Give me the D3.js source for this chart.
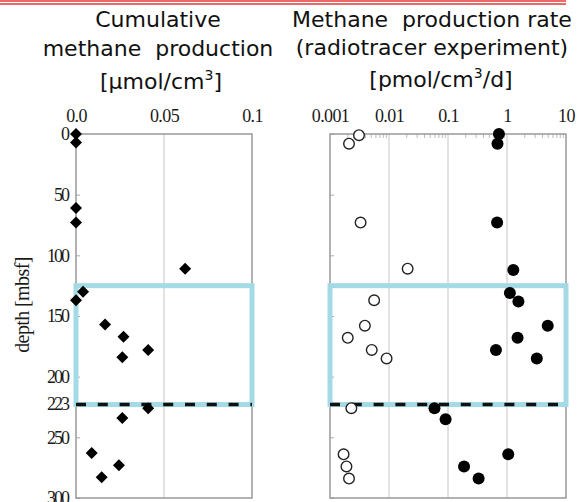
<!DOCTYPE html>
<html>
<head>
<meta charset="utf-8">
<script src="https://cdn.jsdelivr.net/npm/d3@7"></script>
<style>
  body { margin: 0; background: #fff; }
  svg { display: block; }
  .title { font-family: "DejaVu Sans", sans-serif; font-size: 22px; fill: #111; white-space: pre; }
</style>
</head>
<body>
<svg id="chart" width="580" height="502"></svg>
<script>
// depth ticks (mbsf)
var depthTicks = [0, 50, 100, 150, 200, 223, 250, 300];
var boundaryDepth = 223;
var boxTopDepth = 125;

// left panel: cumulative methane production
var cumDepth = [0, 7, 61, 73, 111, 130, 137, 157, 167, 178, 184, 226, 234, 263, 273, 283];
var cumValue = [0, 0, 0, 0, 0.062, 0.004, 0, 0.0165, 0.027, 0.041, 0.0263, 0.041, 0.0263, 0.0089, 0.0244, 0.0146];
var cumTicks = [0, 0.05, 0.1];
var cumTickLabels = ["0.0", "0.05", "0.1"];

// right panel: methane production rate, open and filled circles
var openDepth = [1, 8, 73, 111, 137, 158, 168, 178, 185, 226, 264, 274, 284];
var openValue = [0.0031, 0.0021, 0.0033, 0.0207, 0.0056, 0.0039, 0.0020, 0.0051, 0.0091, 0.0023, 0.0017, 0.0019, 0.0021];
var fillDepth = [0, 8, 73, 112, 131, 138, 158, 168, 178, 185, 226, 235, 264, 274, 284];
var fillValue = [0.73, 0.69, 0.68, 1.28, 1.12, 1.56, 4.9, 1.51, 0.65, 3.2, 0.059, 0.091, 1.05, 0.187, 0.33];
var rateTicks = [0.001, 0.01, 0.1, 1, 10];
var rateTickLabels = ["0.001", "0.01", "0.1", "1", "10"];

var svg = d3.select("#chart");
var top_y = 134, bottom_y = 498;
var boxBlue = "#a3dae5";
var serif = "'Liberation Serif', 'DejaVu Serif', serif";

var yScale = d3.scaleLinear().domain([0, 300]).range([top_y, bottom_y]);
var xCum = d3.scaleLinear().domain([0, 0.1]).range([76, 252]);
var xRate = d3.scaleLog().domain([0.001, 10]).range([330, 566]);

// red double rule on top
svg.append("line").attr("x1", 0).attr("x2", 566).attr("y1", 1).attr("y2", 1)
  .attr("stroke", "#e23b3b").attr("stroke-width", 1.5);
svg.append("line").attr("x1", 0).attr("x2", 566).attr("y1", 4).attr("y2", 4)
  .attr("stroke", "#e23b3b").attr("stroke-width", 1.5);

function titleLines(cx, lines) {
  lines.forEach(function(l) {
    var t = svg.append("text").attr("class", "title")
      .attr("x", l.x || cx).attr("y", l.y).attr("text-anchor", "middle");
    t.append("tspan").text(l.a);
    if (l.sup) {
      t.append("tspan").attr("dy", -9).style("font-size", "14px").text(l.sup);
      t.append("tspan").attr("dy", 9).text(l.b);
    }
  });
}
titleLines(158, [
  {y: 27, a: "Cumulative"},
  {y: 56, a: "methane  production"},
  {y: 89, x: 161, a: "[\u03bcmol/cm", sup: "3", b: "]"}
]);
titleLines(432, [
  {y: 27, a: "Methane  production rate"},
  {y: 55, a: "(radiotracer experiment)"},
  {y: 87, x: 441, a: "[pmol/cm", sup: "3", b: "/d]"}
]);

function panel(x, ticksX, labelsX, minor, showY) {
  var x0 = x.range()[0], x1 = x.range()[1];
  var g = svg.append("g");

  // vertical grid
  g.selectAll(".grid").data(ticksX.slice(1, -1)).enter().append("line")
    .attr("x1", function(d) { return x(d); }).attr("x2", function(d) { return x(d); })
    .attr("y1", top_y).attr("y2", bottom_y)
    .attr("stroke", "#c6c6c6").attr("stroke-width", 1);

  // minor ticks on top (log panel)
  if (minor) {
    var mt = [];
    ticksX.slice(0, -1).forEach(function(t) {
      for (var k = 2; k < 10; k++) mt.push(t * k);
    });
    g.selectAll(".minor").data(mt).enter().append("line")
      .attr("x1", function(d) { return x(d); }).attr("x2", function(d) { return x(d); })
      .attr("y1", top_y).attr("y2", top_y + 4)
      .attr("stroke", "#bbb").attr("stroke-width", 1);
  }

  // top axis labels
  var ax = g.append("g").attr("transform", "translate(0," + top_y + ")")
    .call(d3.axisTop(x).tickValues(ticksX).tickSize(0).tickPadding(12)
      .tickFormat(function(d, i) { return labelsX[i]; }));
  ax.select(".domain").remove();
  ax.selectAll(".tick text")
    .attr("font-family", serif).attr("font-size", 18)
    .style("letter-spacing", "-0.6px").attr("fill", "#1a1a1a");

  // left axis, ticks pointing inward
  var ay = g.append("g").attr("transform", "translate(" + x0 + ",0)")
    .call(d3.axisLeft(yScale).tickValues(depthTicks.filter(function(d) { return d != 223; }))
      .tickSizeInner(-4).tickSizeOuter(0).tickPadding(8)
      .tickFormat(showY ? d3.format("d") : ""));
  ay.select(".domain").remove();
  ay.selectAll(".tick line").attr("stroke", "#aaa");
  if (showY) {
    var extra = ay.append("g").attr("class", "tick")
      .attr("transform", "translate(0," + yScale(boundaryDepth) + ")");
    extra.append("text").attr("x", -8).attr("dy", "0.32em")
      .attr("text-anchor", "end").text("223");
  }
  ay.selectAll(".tick text")
    .attr("font-family", serif).attr("font-size", 18)
    .style("letter-spacing", "-2px").attr("fill", "#1a1a1a");

  // plot frame
  g.append("rect").attr("x", x0).attr("y", top_y)
    .attr("width", x1 - x0).attr("height", bottom_y - top_y)
    .attr("fill", "none").attr("stroke", "#999").attr("stroke-width", 1.5);

  // highlighted interval
  g.append("rect").attr("x", x0).attr("y", yScale(boxTopDepth))
    .attr("width", x1 - x0).attr("height", yScale(boundaryDepth) - yScale(boxTopDepth))
    .attr("fill", "none").attr("stroke", boxBlue).attr("stroke-width", 5);

  // boundary
  g.append("line").attr("x1", x0).attr("x2", x1)
    .attr("y1", yScale(boundaryDepth)).attr("y2", yScale(boundaryDepth))
    .attr("stroke", "#111").attr("stroke-width", 3.5)
    .attr("stroke-dasharray", "10,11.8");
  return g;
}

panel(xCum, cumTicks, cumTickLabels, false, true);
panel(xRate, rateTicks, rateTickLabels, true, false);

// y axis title
svg.append("text")
  .attr("transform", "translate(29,305) rotate(-90)")
  .attr("text-anchor", "middle")
  .style("font-family", serif).style("font-size", "20px")
  .style("letter-spacing", "-0.6px")
  .attr("fill", "#1a1a1a").text("depth [mbsf]");

// diamonds
var diamond = d3.symbol().type(d3.symbolSquare).size(72);
svg.append("g").selectAll("path").data(d3.range(cumDepth.length)).enter().append("path")
  .attr("d", diamond)
  .attr("transform", function(i) {
    return "translate(" + xCum(cumValue[i]) + "," + yScale(cumDepth[i]) + ") rotate(45)";
  })
  .attr("fill", "#000");

// circles
svg.append("g").selectAll("circle").data(d3.range(openDepth.length)).enter().append("circle")
  .attr("cx", function(i) { return xRate(openValue[i]); })
  .attr("cy", function(i) { return yScale(openDepth[i]); })
  .attr("r", 5.3).attr("fill", "#fff").attr("stroke", "#222").attr("stroke-width", 1.4);
svg.append("g").selectAll("circle").data(d3.range(fillDepth.length)).enter().append("circle")
  .attr("cx", function(i) { return xRate(fillValue[i]); })
  .attr("cy", function(i) { return yScale(fillDepth[i]); })
  .attr("r", 6).attr("fill", "#000");
</script>
</body>
</html>
